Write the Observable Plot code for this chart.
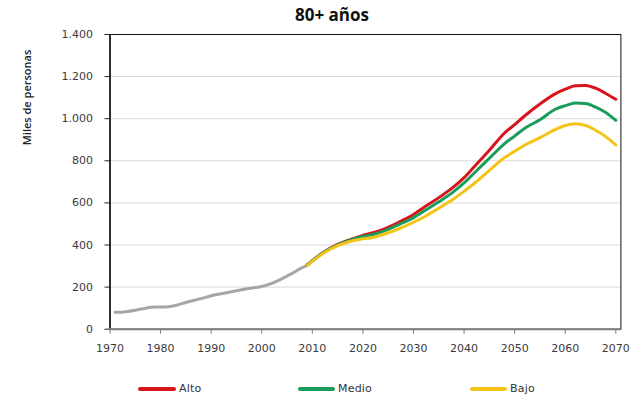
<!DOCTYPE html>
<html>
<head>
<meta charset="utf-8">
<script src="https://cdn.jsdelivr.net/npm/d3@7"></script>
<script src="https://cdn.jsdelivr.net/npm/@observablehq/plot@0.6"></script>
<style>
  html, body { margin: 0; padding: 0; background: #fff; }
  #wrap { width: 644px; height: 401px; position: relative; overflow: hidden; background: #fff; }
  #title { height: 21px; padding-top: 3px; padding-left: 20px; line-height: 24px; text-align: center;
           font-family: "Open Sans", sans-serif; font-weight: bold; font-size: 17px; color: #111; }
  #legend { position: relative; height: 37px; font-family: "DejaVu Sans", sans-serif; font-size: 11px; color: #333; }
  #legend .sw { position: absolute; height: 4px; top: 23px; border-radius: 2px; }
  #legend .lb { position: absolute; top: 18px; line-height: 14px; letter-spacing: 0.2px; }
</style>
</head>
<body>
<div id="wrap">
  <div id="title">80+ años</div>
  <div id="chart"></div>
  <div id="legend"></div>
</div>
<script>
// Historical (gray)
const histYears  = [1971,1972,1973,1975,1977,1979,1981,1983,1985,1988,1990,1993,1996,1998,2000,2002,2004,2006,2008,2009];
const histValues = [80,  80,  83,  90,  100, 105, 106, 113, 127, 145, 159, 173, 187, 196, 203, 218, 240, 265, 293, 303];

// Projections
const projYears = [2009,2012,2015,2018,2020,2022,2024,2027,2030,2032,2035,2038,2040,2042,2045,2048,2050,2052,2055,2058,2060,2062,2064,2066,2068,2070];
const alto  = [305,362,403,430,446,458,474,507,545,578,625,677,720,772,850,932,972,1014,1070,1118,1140,1157,1158,1145,1120,1092];
const medio = [305,361,401,427,440,450,465,496,530,560,605,655,695,742,812,882,918,955,995,1045,1062,1074,1072,1055,1030,992];
const bajo  = [303,358,397,420,430,436,450,476,508,532,575,620,655,692,755,815,845,875,910,948,968,976,968,945,915,875];

const seriesNames  = ["Alto", "Medio", "Bajo"];
const seriesValues = [alto, medio, bajo];
const seriesColors = ["#d8141c", "#1a9d5b", "#f3c316"];

const xTicks = [1970,1980,1990,2000,2010,2020,2030,2040,2050,2060,2070];
const yTicks = [0,200,400,600,800,1000,1200,1400];
const yLabel = "Miles de personas";

const hist = histYears.map((y, i) => ({year: y, value: histValues[i]}));
const proj = seriesNames.flatMap((name, s) =>
  projYears.map((y, i) => ({serie: name, year: y, value: seriesValues[s][i]})));

const es = d3.formatLocale({decimal: ",", thousands: ".", grouping: [3], currency: ["", "€"]});
const fmt = es.format(",");

const chart = Plot.plot({
  width: 644,
  height: 340,
  marginLeft: 109.5,
  marginRight: 23.6,
  marginTop: 10,
  marginBottom: 35.3,
  style: {fontFamily: "DejaVu Sans, sans-serif", fontSize: "11px", color: "#3a3a3a", background: "#fff", overflow: "visible"},
  x: {domain: [1970, 2071], label: null},
  y: {domain: [0, 1400], label: null},
  color: {domain: seriesNames, range: seriesColors},
  marks: [
    Plot.ruleY(yTicks.filter(d => d > 0 && d < 1400), {stroke: "#d9d9d9", strokeWidth: 1}),
    Plot.frame({stroke: "#111", strokeWidth: 1}),
    Plot.axisY({ticks: yTicks, tickFormat: fmt, tickSize: 5, tickPadding: 12, stroke: "#222", fill: "#3a3a3a", label: null}),
    Plot.ruleX([1970], {stroke: "#111", strokeWidth: 1.5}),
    Plot.axisX({ticks: xTicks, tickFormat: d => String(d), tickSize: 5, tickPadding: 10, stroke: "#777", fill: "#3a3a3a", label: null}),
    Plot.ruleY([0], {stroke: "#808080", strokeWidth: 2}),
    Plot.line(hist, {x: "year", y: "value", stroke: "#a6a6a6", strokeWidth: 3, curve: "monotone-x"}),
    Plot.line(proj, {x: "year", y: "value", z: "serie", stroke: "serie", strokeWidth: 3, curve: "monotone-x"}),
    Plot.text([yLabel], {frameAnchor: "top-left", dx: -82.5, dy: 63, rotate: -90, text: d => d,
      textAnchor: "middle", lineAnchor: "middle",
      fontFamily: "Open Sans, sans-serif", fontSize: 11, fill: "#222", fontWeight: 600})
  ]
});
document.getElementById("chart").appendChild(chart);

// Legend
const legend = document.getElementById("legend");
const legendPos = [[138, 179], [298, 338], [470, 510]];
seriesNames.forEach((name, i) => {
  const sw = document.createElement("div");
  sw.className = "sw";
  sw.style.left = legendPos[i][0] + "px";
  sw.style.width = (legendPos[i][1] - legendPos[i][0] - 3) + "px";
  sw.style.background = seriesColors[i];
  legend.appendChild(sw);
  const lb = document.createElement("div");
  lb.className = "lb";
  lb.style.left = legendPos[i][1] + "px";
  lb.textContent = name;
  legend.appendChild(lb);
});
</script>
</body>
</html>
